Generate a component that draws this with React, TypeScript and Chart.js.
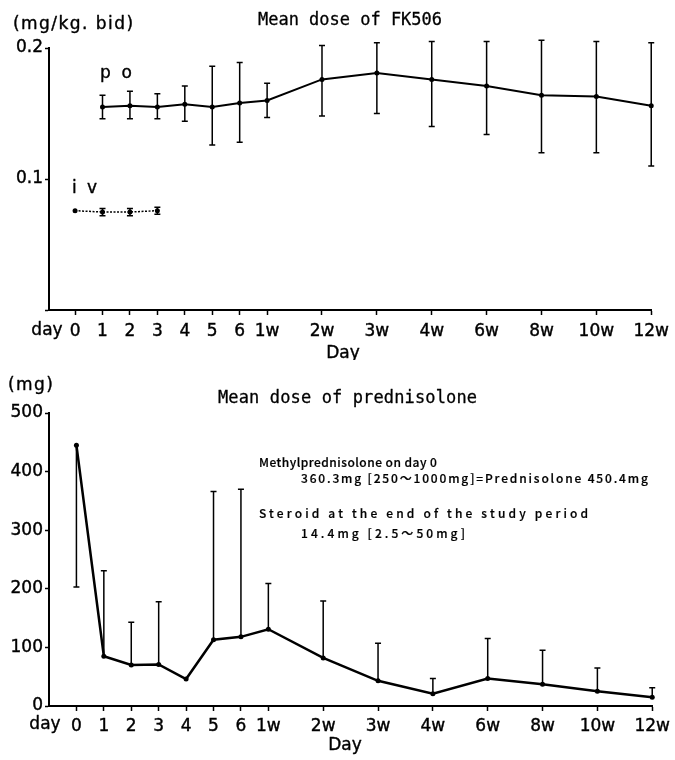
import React, { useEffect, useRef } from 'react';
import { Chart, registerables } from 'chart.js';
Chart.register(...registerables);

// ---- data ----
const dayPos = [0, 1, 2, 3, 4, 5, 6, 7, 9, 11, 13, 15, 17, 19, 21];
const dayLabels = ['0', '1', '2', '3', '4', '5', '6', '1w', '2w', '3w', '4w', '6w', '8w', '10w', '12w'];

// FK506 (mg/kg bid), p.o.
const poMean = [null, 0.155, 0.156, 0.155, 0.157, 0.155, 0.158, 0.160, 0.176, 0.181, 0.176, 0.171, 0.164, 0.163, 0.156];
const poHi = [null, 0.164, 0.167, 0.165, 0.171, 0.186, 0.189, 0.173, 0.202, 0.204, 0.205, 0.205, 0.206, 0.205, 0.204];
const poLo = [null, 0.146, 0.146, 0.146, 0.144, 0.126, 0.128, 0.147, 0.148, 0.150, 0.140, 0.134, 0.120, 0.120, 0.110];
// FK506, i.v. (days 0-3)
const ivMean = [0.0758, 0.0748, 0.0748, 0.0758];
const ivHi = [null, 0.0775, 0.0775, 0.0785];
const ivLo = [null, 0.0720, 0.0720, 0.0730];

// Prednisolone (mg)
const predMean = [445, 85, 70, 71, 46, 113, 118, 131, 82, 43, 21, 47, 37, 25, 15];
const predUp = [null, 231, 143, 178, null, 366, 370, 209, 179, 107, 47, 115, 95, 65, 31];
const predDown = [203, null, null, null, null, null, null, null, null, null, null, null, null, null, null];

const topYTicks = [0, 0.1, 0.2];
const botYTicks = [0, 100, 200, 300, 400, 500];

type TextItem = { text: string; x: number; y: number; font: string; w?: number; align?: CanvasTextAlign; stroke?: number };

function paint(ctx: CanvasRenderingContext2D, text: string, x: number, y: number, stroke?: number) {
  ctx.fillText(text, x, y);
  if (stroke) {
    ctx.lineWidth = stroke;
    ctx.strokeStyle = '#000';
    ctx.lineJoin = 'round';
    ctx.strokeText(text, x, y);
  }
}

function drawText(ctx: CanvasRenderingContext2D, t: TextItem) {
  ctx.save();
  ctx.font = t.font;
  ctx.fillStyle = '#000';
  ctx.textBaseline = 'middle';
  if (!t.w) {
    ctx.textAlign = t.align || 'left';
    paint(ctx, t.text, t.x, t.y, t.stroke);
    ctx.restore();
    return;
  }
  ctx.textAlign = 'left';
  const n = Array.from(t.text).length;
  const w = ctx.measureText(t.text).width;
  if (w < t.w && 'letterSpacing' in ctx) {
    (ctx as any).letterSpacing = ((t.w - w) / Math.max(n - 1, 1)).toFixed(2) + 'px';
    paint(ctx, t.text, t.x, t.y, t.stroke);
  } else if (w > t.w) {
    ctx.translate(t.x, t.y);
    ctx.scale(t.w / w, 1);
    paint(ctx, t.text, 0, 0, t.stroke);
  } else {
    paint(ctx, t.text, t.x, t.y, t.stroke);
  }
  ctx.restore();
}

function textPlugin(items: TextItem[]) {
  return {
    id: 'texts',
    afterDraw(chart: any) {
      items.forEach((t) => drawText(chart.ctx, t));
    },
  };
}

const errorBarPlugin = {
  id: 'errbars',
  afterDatasetsDraw(chart: any) {
    const ctx = chart.ctx;
    const ys = chart.scales.y;
    chart.data.datasets.forEach((ds: any, di: number) => {
      const meta = chart.getDatasetMeta(di);
      const hi = ds.errHi || [];
      const lo = ds.errLo || [];
      ctx.save();
      ctx.strokeStyle = '#000';
      ctx.lineWidth = ds.errWidth || 1.5;
      const cap = 3;
      meta.data.forEach((pt: any, i: number) => {
        const v = ds.data[i] && ds.data[i].y;
        if (v == null) return;
        if (hi[i] == null && lo[i] == null) return;
        const x = pt.x;
        const yv = ys.getPixelForValue(v);
        const yh = hi[i] != null ? ys.getPixelForValue(hi[i]) : yv;
        const yl = lo[i] != null ? ys.getPixelForValue(lo[i]) : yv;
        ctx.beginPath();
        ctx.moveTo(x, yl);
        ctx.lineTo(x, yh);
        if (hi[i] != null) {
          ctx.moveTo(x - cap, yh);
          ctx.lineTo(x + cap, yh);
        }
        if (lo[i] != null) {
          ctx.moveTo(x - cap, yl);
          ctx.lineTo(x + cap, yl);
        }
        ctx.stroke();
      });
      ctx.restore();
    });
  },
};

const tickFont = { family: 'DejaVu Sans', size: 17 };
const titleFont = '17px "DejaVu Sans Mono"';
const labelFont = '17px "DejaVu Sans"';
const noteFont = '500 12px "Noto Sans CJK JP"';
const TS = 0.4;

function xScale(min: number, h: number, pad: number) {
  return {
    type: 'linear',
    min,
    max: 21,
    afterBuildTicks: (s: any) => {
      s.ticks = dayPos.map((v) => ({ value: v }));
    },
    afterFit: (s: any) => {
      s.height = h;
    },
    ticks: {
      autoSkip: false,
      maxRotation: 0,
      color: '#000',
      font: tickFont,
      padding: pad,
      textStrokeColor: '#000',
      textStrokeWidth: TS,
      callback: (_v: any, i: number) => dayLabels[i],
    },
    grid: { drawOnChartArea: false, drawTicks: true, tickLength: 5, tickWidth: 1.5, tickColor: '#000' },
    border: { color: '#000', width: 2 },
  };
}

function yScale(min: number, max: number, ticks: number[], fmt: (v: number) => string) {
  return {
    min,
    max,
    afterBuildTicks: (s: any) => {
      s.ticks = ticks.map((v) => ({ value: v }));
    },
    afterFit: (s: any) => {
      s.width = 49;
    },
    ticks: {
      color: '#000',
      font: tickFont,
      padding: 2,
      textStrokeColor: '#000',
      textStrokeWidth: TS,
      callback: (v: any) => fmt(Number(v)),
    },
    grid: { drawOnChartArea: false, drawTicks: true, tickLength: 4, tickWidth: 1.5, tickColor: '#000' },
    border: { color: '#000', width: 2 },
  };
}

export default function App() {
  const topRef = useRef<HTMLCanvasElement>(null);
  const botRef = useRef<HTMLCanvasElement>(null);

  useEffect(() => {
    const top = new Chart(topRef.current as HTMLCanvasElement, {
      type: 'line',
      data: {
        datasets: [
          {
            label: 'po',
            data: dayPos.map((x, i) => ({ x, y: poMean[i] })),
            errHi: poHi,
            errLo: poLo,
            borderColor: '#000',
            backgroundColor: '#000',
            borderWidth: 2,
            pointRadius: 2.5,
            pointBorderWidth: 0,
            tension: 0,
            clip: false,
          } as any,
          {
            label: 'iv',
            data: ivMean.map((y, i) => ({ x: dayPos[i], y })),
            errHi: ivHi,
            errLo: ivLo,
            borderColor: '#000',
            backgroundColor: '#000',
            borderWidth: 1.5,
            borderDash: [2, 1.5],
            pointRadius: 2.5,
            pointBorderWidth: 0,
            tension: 0,
            clip: false,
          } as any,
        ],
      },
      options: {
        responsive: false,
        animation: false,
        layout: { padding: { top: 48, right: 22, left: 0, bottom: 0 } },
        plugins: { legend: { display: false }, tooltip: { enabled: false } },
        scales: {
          x: xScale(-0.95, 50, 6) as any,
          y: yScale(0, 0.2, topYTicks, (v) => (v === 0 ? '' : v.toFixed(1))) as any,
        },
      },
      plugins: [
        errorBarPlugin,
        textPlugin([
          { text: '(mg/kg. bid)', x: 13, y: 25, font: labelFont, w: 120, stroke: TS },
          { text: 'Mean dose of FK506', x: 258, y: 21, font: titleFont, w: 184, stroke: 0.3 },
          { text: 'p o', x: 100, y: 74, font: labelFont, w: 32, stroke: TS },
          { text: 'i v', x: 72, y: 189, font: labelFont, w: 25, stroke: TS },
          { text: 'day', x: 47, y: 331, font: labelFont, align: 'center', stroke: TS },
          { text: 'Day', x: 343, y: 354, font: labelFont, align: 'center', stroke: TS },
        ]),
      ],
    } as any);

    const bot = new Chart(botRef.current as HTMLCanvasElement, {
      type: 'line',
      data: {
        datasets: [
          {
            label: 'prednisolone',
            data: dayPos.map((x, i) => ({ x, y: predMean[i] })),
            errHi: predUp,
            errLo: predDown,
            borderColor: '#000',
            backgroundColor: '#000',
            borderWidth: 2.5,
            pointRadius: 2.5,
            pointBorderWidth: 0,
            tension: 0,
            clip: false,
          } as any,
        ],
      },
      options: {
        responsive: false,
        animation: false,
        layout: { padding: { top: 53, right: 16, left: 0, bottom: 0 } },
        plugins: { legend: { display: false }, tooltip: { enabled: false } },
        scales: {
          x: xScale(-1, 54, 5) as any,
          y: yScale(0, 500, botYTicks, (v) => String(v)) as any,
        },
      },
      plugins: [
        errorBarPlugin,
        textPlugin([
          { text: '(mg)', x: 8, y: 26, font: labelFont, w: 45, stroke: TS },
          { text: 'Mean dose of prednisolone', x: 218, y: 39, font: titleFont, w: 259, stroke: 0.3 },
          { text: 'Methylprednisolone on day 0', x: 259, y: 102, font: noteFont, w: 178, stroke: 0.2 },
          { text: '360.3mg [250～1000mg]=Prednisolone 450.4mg', x: 301, y: 118, font: noteFont, w: 347, stroke: 0.2 },
          { text: 'Steroid at the end of the study period', x: 259, y: 153, font: noteFont, w: 329, stroke: 0.2 },
          { text: '14.4mg [2.5～50mg]', x: 301, y: 173, font: noteFont, w: 164, stroke: 0.2 },
          { text: 'day', x: 45, y: 365, font: labelFont, align: 'center', stroke: TS },
          { text: 'Day', x: 345, y: 386, font: labelFont, align: 'center', stroke: TS },
        ]),
      ],
    } as any);

    return () => {
      top.destroy();
      bot.destroy();
    };
  }, []);

  return (
    <div style={{ position: 'absolute', left: 0, top: 0, width: 675, height: 760, background: '#fff' }}>
      <canvas ref={topRef} width={675} height={360} style={{ position: 'absolute', left: 0, top: 0, width: 675, height: 360 }} />
      <canvas ref={botRef} width={675} height={400} style={{ position: 'absolute', left: 0, top: 360, width: 675, height: 400 }} />
    </div>
  );
}
